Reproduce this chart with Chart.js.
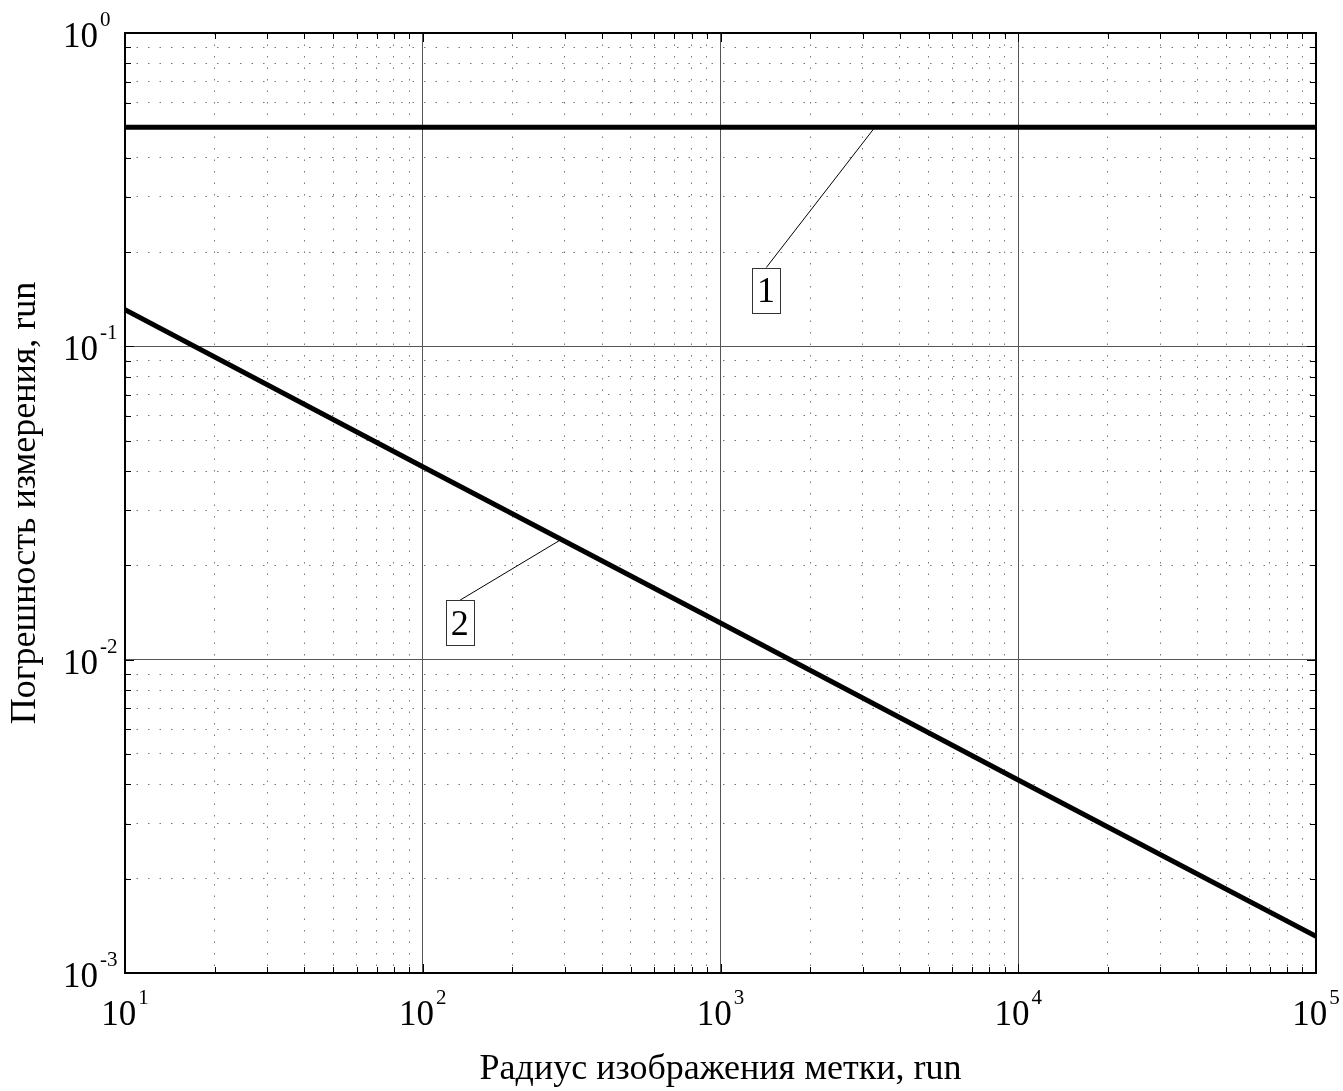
<!DOCTYPE html>
<html><head><meta charset="utf-8">
<script src="https://cdn.jsdelivr.net/npm/chart.js@4/dist/chart.umd.min.js"></script>
<style>html,body{margin:0;padding:0;background:#fff;} #wrap{width:1343px;height:1091px;position:relative;}</style>
</head><body><div id="wrap"><canvas id="c"></canvas></div>
<script>
// ---- data ----
const xValues = [10, 100, 1000, 10000, 100000];
const series1 = [0.5, 0.5, 0.5, 0.5, 0.5];
const series2 = [0.131, 0.0413, 0.0131, 0.00413, 0.00131];
const xMajorTicks = [10, 100, 1000, 10000, 100000];
const yMajorTicks = [0.001, 0.01, 0.1, 1];
const xTitle = 'Радиус изображения метки, run';
const yTitle = 'Погрешность измерения, run';
const calloutTexts = ['1', '2'];
const calloutPointX = [3300, 292];
const calloutPointY = [0.5, 0.0242];
const calloutBoxX = [1423, 133];
const calloutBoxY = [0.151, 0.0131];

// ---- helpers ----
function expOf(v){ return String(Math.round(Math.log10(v))); }
function minorsOf(majors){ const out=[]; for(let i=0;i<majors.length-1;i++){ for(let m=2;m<=9;m++) out.push(+(majors[i]*m).toPrecision(6)); } return out; }
const FONT = "'Liberation Serif', 'Times New Roman', serif";
const BASE_PX = 35, EXP_PX = 21, EXP_RAISE = 21;

function drawPow(ctx, v, x, baseline, align){
  const e = expOf(v);
  ctx.font = BASE_PX + 'px ' + FONT;
  const wb = ctx.measureText('10').width;
  ctx.font = EXP_PX + 'px ' + FONT;
  const we = ctx.measureText(e).width;
  const total = wb + 2 + we;
  let x0 = align === 'center' ? x - total/2 : x;
  ctx.textAlign = 'left'; ctx.textBaseline = 'alphabetic'; ctx.fillStyle = '#000';
  ctx.font = BASE_PX + 'px ' + FONT;
  ctx.fillText('10', x0, baseline);
  ctx.font = EXP_PX + 'px ' + FONT;
  ctx.fillText(e, x0 + wb + 2, baseline - EXP_RAISE);
}

const frame = {
  id: 'frame',
  afterDraw(chart){
    const {ctx, chartArea:a, scales} = chart;
    const xs = scales.xMinor, ys = scales.yMinor, X = scales.x, Y = scales.y;
    ctx.save();
    ctx.strokeStyle = '#000'; ctx.lineWidth = 1;
    ctx.beginPath();
    xs.ticks.forEach(t => { const p = Math.round(xs.getPixelForValue(t.value)) + 0.5;
      ctx.moveTo(p, a.bottom); ctx.lineTo(p, a.bottom - 6); ctx.moveTo(p, a.top); ctx.lineTo(p, a.top + 6); });
    ys.ticks.forEach(t => { const p = Math.round(ys.getPixelForValue(t.value)) + 0.5;
      ctx.moveTo(a.left, p); ctx.lineTo(a.left + 6, p); ctx.moveTo(a.right, p); ctx.lineTo(a.right - 6, p); });
    X.ticks.forEach(t => { const p = Math.round(X.getPixelForValue(t.value)) + 0.5;
      ctx.moveTo(p, a.bottom); ctx.lineTo(p, a.bottom - 9); ctx.moveTo(p, a.top); ctx.lineTo(p, a.top + 9); });
    Y.ticks.forEach(t => { const p = Math.round(Y.getPixelForValue(t.value)) + 0.5;
      ctx.moveTo(a.left, p); ctx.lineTo(a.left + 9, p); ctx.moveTo(a.right, p); ctx.lineTo(a.right - 9, p); });
    ctx.stroke();
    ctx.lineWidth = 2;
    ctx.strokeRect(a.left, a.top, a.right - a.left, a.bottom - a.top);
    // tick labels (10 with superscript exponent)
    X.ticks.forEach(t => drawPow(ctx, t.value, X.getPixelForValue(t.value), a.bottom + 52, 'center'));
    Y.ticks.forEach(t => drawPow(ctx, t.value, a.left - 62, Y.getPixelForValue(t.value) + 14, 'left'));
    // callouts
    ctx.font = "36px " + FONT;
    calloutTexts.forEach((txt, i) => {
      const px = X.getPixelForValue(calloutPointX[i]), py = Y.getPixelForValue(calloutPointY[i]);
      const bx = X.getPixelForValue(calloutBoxX[i]), by = Y.getPixelForValue(calloutBoxY[i]);
      const w = ctx.measureText(txt).width + 10, h = 45;
      ctx.strokeStyle = '#000'; ctx.lineWidth = 1;
      ctx.beginPath(); ctx.moveTo(bx, by - h/2); ctx.lineTo(px, py); ctx.stroke();
      ctx.fillStyle = '#fff';
      ctx.fillRect(bx - w/2, by - h/2, w, h);
      ctx.strokeStyle = '#333';
      ctx.strokeRect(Math.round(bx - w/2) + 0.5, Math.round(by - h/2) + 0.5, Math.round(w), h);
      ctx.fillStyle = '#000'; ctx.textAlign = 'center'; ctx.textBaseline = 'alphabetic';
      ctx.fillText(txt, bx, by + 12);
    });
    ctx.restore();
  }
};

const minorGrid = { color: '#777', lineWidth: 1, drawTicks: false };

new Chart(document.getElementById('c'), {
  type: 'line',
  data: {
    datasets: [
      { label: '1', data: xValues.map((x,i)=>({x, y: series1[i]})), borderColor: '#000', borderWidth: 5, pointRadius: 0, xAxisID: 'x', yAxisID: 'y', tension: 0 },
      { label: '2', data: xValues.map((x,i)=>({x, y: series2[i]})), borderColor: '#000', borderWidth: 5, pointRadius: 0, xAxisID: 'x', yAxisID: 'y', tension: 0 }
    ]
  },
  options: {
    responsive: true, maintainAspectRatio: false, animation: false,
    layout: { padding: { top: 33, right: 27, left: 0, bottom: 0 } },
    plugins: { legend: { display: false }, tooltip: { enabled: false } },
    scales: {
      xMinor: { type: 'logarithmic', position: 'bottom', min: 10, max: 100000,
        afterBuildTicks: s => { s.ticks = minorsOf(xMajorTicks).map(v=>({value:v})); },
        afterFit: s => { s.height = 0; s.paddingLeft = 0; s.paddingRight = 0; },
        ticks: { display: false }, grid: minorGrid, border: { display: false, dash: [1.5, 10] } },
      yMinor: { type: 'logarithmic', position: 'left', min: 0.001, max: 1,
        afterBuildTicks: s => { s.ticks = minorsOf(yMajorTicks).map(v=>({value:v})); },
        afterFit: s => { s.width = 0; s.paddingTop = 0; s.paddingBottom = 0; },
        ticks: { display: false }, grid: minorGrid, border: { display: false, dash: [1.5, 10] } },
      x: { type: 'logarithmic', position: 'bottom', min: 10, max: 100000,
        afterBuildTicks: s => { s.ticks = xMajorTicks.map(v=>({value:v})); },
        afterFit: s => { s.height = 118; s.paddingLeft = 0; s.paddingRight = 0; },
        grid: { color: '#555', lineWidth: 1, drawTicks: false },
        border: { display: false },
        ticks: { display: false, autoSkip: false, callback: v => '10^' + expOf(v) },
        title: { display: true, text: xTitle, color: '#000', font: { family: FONT, size: 36 }, padding: { top: 0, bottom: 0 } } },
      y: { type: 'logarithmic', position: 'left', min: 0.001, max: 1,
        afterBuildTicks: s => { s.ticks = yMajorTicks.map(v=>({value:v})); },
        afterFit: s => { s.width = 125; s.paddingTop = 0; s.paddingBottom = 0; },
        grid: { color: '#555', lineWidth: 1, drawTicks: false },
        border: { display: false },
        ticks: { display: false, autoSkip: false, callback: v => '10^' + expOf(v) },
        title: { display: true, text: yTitle, color: '#000', font: { family: FONT, size: 36 }, padding: { top: 4, bottom: 0 } } }
    }
  },
  plugins: [frame]
});
</script></body></html>
